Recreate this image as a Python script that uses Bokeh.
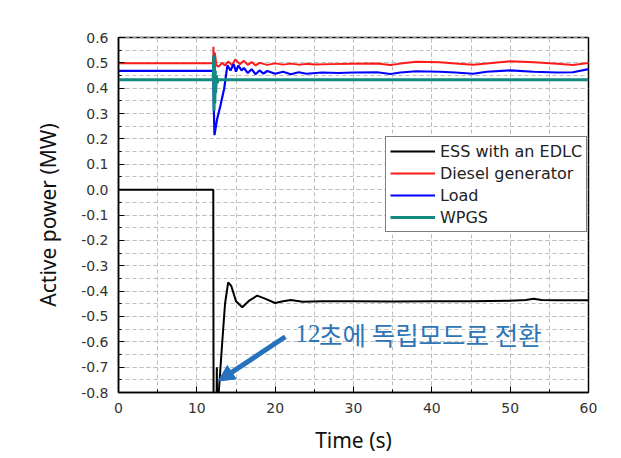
from bokeh.plotting import figure
from bokeh.models import (SingleIntervalTicker, NumeralTickFormatter, Legend, LegendItem,
                          Arrow, NormalHead, Range1d)
from bokeh.core.properties import value
from bokeh.embed import file_html
from bokeh.resources import INLINE

# ---- data ----
ess_t = [0, 12.1, 12.14, 12.5, 12.55, 12.62, 12.8, 13.2, 13.6, 14.0, 14.4, 15.0, 15.8, 16.6, 17.7,
         18.7, 20.0, 21.0, 22.0, 23.5, 26, 30, 35, 40, 45, 50, 52, 53, 54, 56, 60]
ess_v = [0, 0, -0.95, -0.95, -0.70, -0.95, -0.80, -0.62, -0.45, -0.366, -0.38, -0.44, -0.464, -0.44,
         -0.418, -0.43, -0.447, -0.44, -0.435, -0.442, -0.44, -0.44, -0.441, -0.44, -0.44, -0.438,
         -0.435, -0.43, -0.435, -0.436, -0.436]

diesel_t = [0, 12.1, 12.12, 12.2, 12.3, 12.5, 12.8, 13.2, 13.6, 14.0, 14.5, 14.9, 15.5, 16.0, 16.5,
            17, 17.5, 18, 19, 20, 21, 22, 23, 24, 25, 27, 30, 33, 34.7, 36, 38, 41, 43, 45.3, 47,
            50, 53, 56, 58, 60]
diesel_v = [0.498, 0.498, 0.563, 0.48, 0.54, 0.49, 0.485, 0.50, 0.49, 0.505, 0.49, 0.513, 0.495,
            0.508, 0.492, 0.503, 0.49, 0.50, 0.492, 0.498, 0.493, 0.497, 0.493, 0.496, 0.494, 0.495,
            0.496, 0.497, 0.492, 0.497, 0.504, 0.502, 0.497, 0.493, 0.497, 0.506, 0.502, 0.496,
            0.492, 0.499]

load_t = [0, 12.1, 12.15, 12.25, 12.6, 13.0, 13.5, 13.9, 14.3, 14.7, 15.0, 15.3, 15.7, 16.0, 16.5,
          17, 17.5, 18, 18.5, 19, 20, 21, 22, 23, 24, 26, 28, 30, 33, 34.7, 36, 38, 41, 43, 45.3,
          47, 50, 53, 56, 58, 60]
load_v = [0.468, 0.468, 0.35, 0.215, 0.28, 0.33, 0.40, 0.49, 0.47, 0.495, 0.465, 0.49, 0.47, 0.48,
          0.46, 0.475, 0.455, 0.47, 0.458, 0.468, 0.457, 0.465, 0.455, 0.463, 0.457, 0.462, 0.46,
          0.462, 0.463, 0.456, 0.462, 0.467, 0.465, 0.462, 0.457, 0.465, 0.47, 0.465, 0.462,
          0.463, 0.475]

wpgs_t = [0, 12.1, 12.15, 12.2, 12.25, 12.3, 12.35, 12.4, 12.5, 12.6, 12.7, 60]
wpgs_v = [0.433, 0.433, 0.53, 0.31, 0.50, 0.34, 0.47, 0.38, 0.45, 0.42, 0.433, 0.433]

series_names = ["ESS with an EDLC", "Diesel generator", "Load", "WPGS"]
series_colors = ["#000000", "#ff1a1a", "#0000ff", "#138a80"]

annot_text_num = "12"
annot_text_kr = "초에 독립모드로 전환"
annot_pos = (22.6, -0.568)
arrow_start = (21.3, -0.58)
arrow_end = (12.75, -0.755)

# ---- figure ----
p = figure(frame_width=470, frame_height=355, output_backend="svg", toolbar_location=None,
           x_range=Range1d(0, 60), y_range=Range1d(-0.8, 0.6000001),
           min_border_left=118, min_border_right=25, min_border_top=37, min_border_bottom=58,
           background_fill_color="white", border_fill_color="white")
p.outline_line_color = "#000000"
p.outline_line_width = 1.5

p.xaxis.ticker = SingleIntervalTicker(interval=10, num_minor_ticks=2)
p.yaxis.ticker = SingleIntervalTicker(interval=0.1, num_minor_ticks=2)
p.yaxis.formatter = NumeralTickFormatter(format="0.0")

for ax in (p.xaxis[0], p.yaxis[0]):
    ax.major_tick_in = 6
    ax.major_tick_out = 0
    ax.minor_tick_in = 3
    ax.minor_tick_out = 0
    ax.axis_line_color = "#000000"
    ax.axis_line_width = 1.5
    ax.major_tick_line_color = "#000000"
    ax.minor_tick_line_color = "#000000"
    ax.major_label_text_font = "DejaVu Sans"
    ax.major_label_text_font_size = "14px"
    ax.major_label_text_color = "#333333"
    ax.axis_label_text_font = "Noto Sans"
    ax.axis_label_text_font_size = "21px"
    ax.axis_label_text_font_style = "normal"
    ax.axis_label_text_color = "#111111"

p.xaxis.axis_label = "Time (s)"
p.yaxis.axis_label = "Active power (MW)"
p.xaxis.major_label_standoff = 10
p.yaxis.major_label_standoff = 10
p.xaxis.axis_label_standoff = 10
p.yaxis.axis_label_standoff = 16

for g in (p.xgrid[0], p.ygrid[0]):
    g.grid_line_color = "#bdbdbd"
    g.grid_line_dash = "4 3"
    g.grid_line_width = 1
    g.minor_grid_line_color = "#bdbdbd"
    g.minor_grid_line_dash = "4 3"
    g.minor_grid_line_width = 1

r_ess = p.line(ess_t, ess_v, line_color=series_colors[0], line_width=2)
r_die = p.line(diesel_t, diesel_v, line_color=series_colors[1], line_width=2)
r_load = p.line(load_t, load_v, line_color=series_colors[2], line_width=2.2)
r_wp = p.line(wpgs_t, wpgs_v, line_color=series_colors[3], line_width=3)

legend = Legend(items=[LegendItem(label=n, renderers=[r]) for n, r in
                       zip(series_names, [r_ess, r_die, r_load, r_wp])],
                location=(267, 160))
legend.border_line_color = "#000000"
legend.border_line_width = 1.2
legend.background_fill_color = "white"
legend.background_fill_alpha = 1
legend.label_text_font = "DejaVu Sans"
legend.label_text_font_size = "16px"
legend.label_text_color = "#222222"
legend.glyph_width = 45
legend.glyph_height = 20
legend.label_height = 20
legend.spacing = 2
legend.padding = 4
legend.margin = 0
legend.label_standoff = 5
p.add_layout(legend)

p.add_layout(Arrow(end=NormalHead(size=16, fill_color="#2672bc", line_color="#2672bc"),
                   x_start=arrow_start[0], y_start=arrow_start[1],
                   x_end=arrow_end[0], y_end=arrow_end[1],
                   line_color="#2672bc", line_width=5))

p.text(x=[annot_pos[0]], y=[annot_pos[1]], text=[annot_text_num],
       text_font=value("Liberation Serif"), text_font_size="25px",
       text_color="#2e75b6", text_baseline="middle", text_align="left")
p.text(x=[annot_pos[0] + 3.0], y=[annot_pos[1]], text=[annot_text_kr],
       text_font=value("Noto Sans CJK KR"), text_font_size="25.5px",
       text_color="#2e75b6", text_baseline="middle", text_align="left")

open("out.html", "w").write(file_html(p, INLINE))
